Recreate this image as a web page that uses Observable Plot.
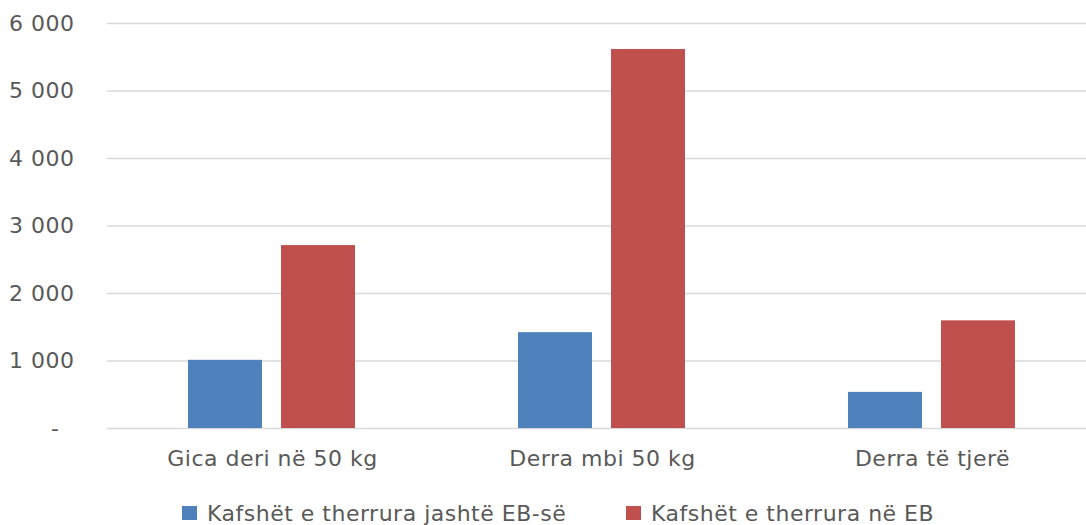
<!DOCTYPE html>
<html>
<head>
<meta charset="utf-8">
<script src="https://cdn.jsdelivr.net/npm/d3@7"></script>
<script src="https://cdn.jsdelivr.net/npm/@observablehq/plot@0.6"></script>
<style>
  html, body { margin: 0; padding: 0; background: #fff; }
  #chart { width: 1086px; overflow: hidden; }
  .legend { position: relative; height: 46px; font-family: "DejaVu Sans", sans-serif; font-size: 22px; letter-spacing: 0.5px; color: #595959; }
  .item { position: absolute; top: 0; height: 46px; display: flex; align-items: center; white-space: nowrap; }
  .sw { width: 15px; height: 14px; margin-right: 10px; }
</style>
</head>
<body>
<div id="chart"></div>
<script>
const categories = ["Gica deri në 50 kg", "Derra mbi 50 kg", "Derra të tjerë"];
const series = ["Kafshët e therrura jashtë EB-së", "Kafshët e therrura në EB"];
const outsideEU = [1010, 1420, 535];
const insideEU = [2710, 5615, 1595];
const yTicks = [0, 1000, 2000, 3000, 4000, 5000, 6000];
const colors = ["#4F81BD", "#C0504D"];

const data = [];
categories.forEach((c, i) => {
  data.push({cat: c, series: series[0], value: outsideEU[i]});
  data.push({cat: c, series: series[1], value: insideEU[i]});
});

const fmt = d => d === 0 ? "-\u00a0\u00a0" : d3.format(",")(d).replace(/,/g, " ");

const plot = Plot.plot({
  width: 1086,
  height: 490,
  marginTop: 23,
  marginBottom: 62,
  marginLeft: 106,
  marginRight: -11,
  style: {fontFamily: "DejaVu Sans, sans-serif", fontSize: "22px", letterSpacing: "0.5px", color: "#595959", background: "#fff"},
  fx: {domain: categories, padding: 0, label: null, tickSize: 0, tickPadding: 22},
  x: {domain: series, axis: null, paddingInner: 0.203, paddingOuter: 0.869},
  y: {domain: [0, 6000], ticks: yTicks, tickFormat: fmt, tickSize: 0, tickPadding: 33, label: null},
  color: {domain: series, range: colors},
  marks: [
    Plot.ruleY(yTicks, {stroke: "#d9d9d9", strokeWidth: 1.5}),
    Plot.barY(data, {fx: "cat", x: "series", y: "value", fill: "series"})
  ]
});
document.getElementById("chart").appendChild(plot);

const legend = document.createElement("div");
legend.className = "legend";
const lefts = [182, 626];
series.forEach((s, i) => {
  const item = document.createElement("div");
  item.className = "item";
  item.style.left = lefts[i] + "px";
  const sw = document.createElement("span");
  sw.className = "sw";
  sw.style.background = colors[i];
  const t = document.createElement("span");
  t.textContent = s;
  item.appendChild(sw);
  item.appendChild(t);
  legend.appendChild(item);
});
document.body.appendChild(legend);
</script>
</body>
</html>
